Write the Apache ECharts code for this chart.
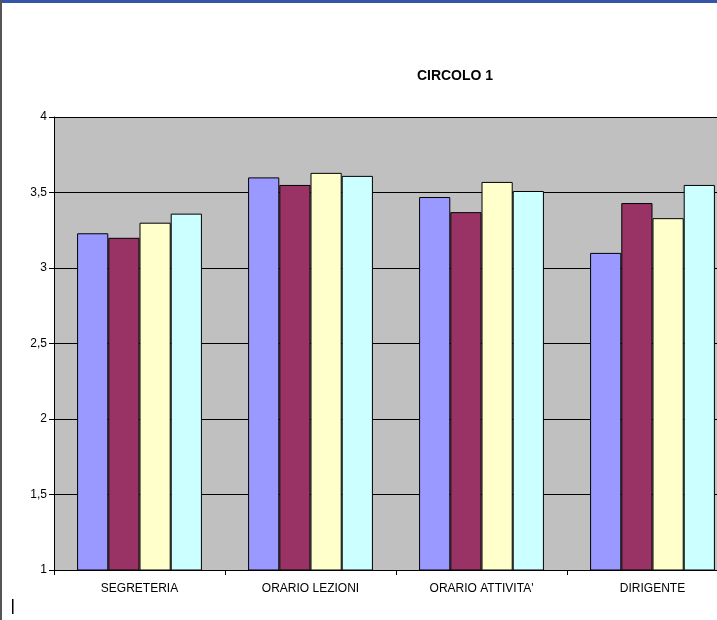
<!DOCTYPE html>
<html><head><meta charset="utf-8">
<script src="https://cdn.jsdelivr.net/npm/echarts@6/dist/echarts.min.js"></script>
<style>html,body{margin:0;padding:0;background:#fff}#c{width:717px;height:620px}</style>
</head><body><div id="c"></div>
<script>
const categories = ['SEGRETERIA', 'ORARIO LEZIONI', "ORARIO ATTIVITA'", 'DIRIGENTE'];
const series1 = [3.23, 3.60, 3.47, 3.10];
const series2 = [3.20, 3.55, 3.37, 3.43];
const series3 = [3.30, 3.63, 3.57, 3.33];
const series4 = [3.36, 3.61, 3.51, 3.55];
const colors = ['#9999FF', '#993366', '#FFFFCC', '#CCFFFF'];
const title = 'CIRCOLO 1';

const chart = echarts.init(document.getElementById('c'), null, {renderer: 'canvas'});
const font = 'Arial, "Liberation Sans", sans-serif';
const mk = (d, i) => ({
  type: 'bar', data: d, barGap: '0%', barCategoryGap: '27%',
  itemStyle: {color: colors[i], borderColor: '#000', borderWidth: 1},
  emphasis: {disabled: true}, animation: false
});
chart.setOption({
  animation: false,
  backgroundColor: '#fff',
  title: {text: title, left: 450, top: 64, textAlign: 'center',
    textStyle: {fontFamily: font, fontSize: 14, fontWeight: 'bold', color: '#000'}},
  grid: {left: 54, top: 117, bottom: 50, right: -21, containLabel: false, outerBoundsMode: 'none',
    show: true, backgroundColor: '#C0C0C0', borderWidth: 0},
  xAxis: {type: 'category', data: categories,
    axisLine: {lineStyle: {color: '#000', width: 1}},
    axisTick: {show: true, length: 5, alignWithLabel: false, lineStyle: {color: '#000'}},
    axisLabel: {fontFamily: font, fontSize: 12, color: '#000', margin: 13}},
  yAxis: {type: 'value', min: 1, max: 4, interval: 0.5,
    axisLine: {show: true, lineStyle: {color: '#000', width: 1}},
    axisTick: {show: true, length: 5, lineStyle: {color: '#000'}},
    splitLine: {lineStyle: {color: '#000', width: 1}},
    axisLabel: {fontFamily: font, fontSize: 12, color: '#000', margin: 7,
      formatter: v => String(v).replace('.', ',')}},
  series: [mk(series1,0), mk(series2,1), mk(series3,2), mk(series4,3)],
  graphic: [
    {type: 'rect', shape: {x: 0, y: 0, width: 717, height: 3}, style: {fill: '#3556a8'}, silent: true},
    {type: 'rect', shape: {x: 0, y: 0, width: 2, height: 620}, style: {fill: '#555'}, silent: true},
    {type: 'rect', shape: {x: 12, y: 599, width: 1.5, height: 15}, style: {fill: '#000'}, silent: true}
  ]
});
</script></body></html>
